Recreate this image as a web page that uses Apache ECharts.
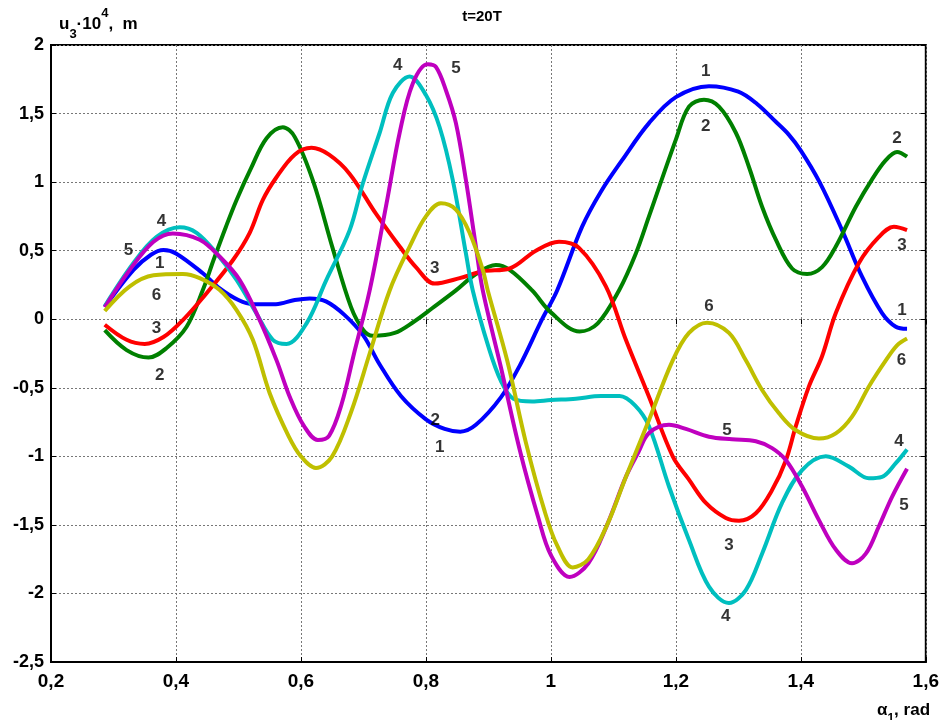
<!DOCTYPE html>
<html>
<head>
<meta charset="utf-8">
<script src="https://cdn.jsdelivr.net/npm/echarts@6/dist/echarts.min.js"></script>
<style>html,body{margin:0;padding:0;background:#fff}#c{width:942px;height:720px}</style>
</head>
<body>
<div id="c"></div>
<script>
// ---- data (x in rad, y in u3*10^4 m) ----
var xTicks = [0.2, 0.4, 0.6, 0.8, 1.0, 1.2, 1.4, 1.6];
var yTicks = [-2.5, -2, -1.5, -1, -0.5, 0, 0.5, 1, 1.5, 2];
var curve1 = [[0.286,0.09],[0.332,0.36],[0.36,0.47],[0.38,0.505],[0.40,0.48],[0.443,0.335],[0.47,0.225],[0.50,0.14],[0.523,0.11],[0.56,0.11],[0.59,0.14],[0.614,0.152],[0.64,0.13],[0.67,0.03],[0.70,-0.12],[0.726,-0.33],[0.76,-0.56],[0.80,-0.73],[0.83,-0.8],[0.855,-0.82],[0.88,-0.77],[0.92,-0.57],[0.95,-0.34],[0.986,0.0],[1.01,0.21],[1.05,0.675],[1.08,0.93],[1.114,1.16],[1.157,1.43],[1.2,1.62],[1.253,1.70],[1.30,1.66],[1.33,1.57],[1.36,1.44],[1.38,1.35],[1.40,1.23],[1.43,1.0],[1.466,0.65],[1.498,0.31],[1.53,0.045],[1.552,-0.055],[1.57,-0.07]];
var curve2 = [[0.286,-0.08],[0.321,-0.225],[0.356,-0.28],[0.385,-0.21],[0.417,-0.055],[0.443,0.213],[0.46,0.43],[0.48,0.675],[0.497,0.87],[0.52,1.1],[0.545,1.32],[0.571,1.40],[0.59,1.33],[0.62,1.0],[0.65,0.53],[0.68,0.09],[0.70,-0.08],[0.715,-0.12],[0.75,-0.1],[0.78,-0.02],[0.81,0.08],[0.848,0.21],[0.88,0.33],[0.912,0.395],[0.934,0.36],[0.97,0.21],[1.0,0.05],[1.046,-0.09],[1.075,-0.03],[1.109,0.21],[1.136,0.48],[1.157,0.75],[1.2,1.31],[1.221,1.55],[1.245,1.60],[1.269,1.55],[1.296,1.36],[1.317,1.11],[1.338,0.82],[1.36,0.58],[1.386,0.37],[1.41,0.33],[1.434,0.38],[1.456,0.53],[1.488,0.82],[1.514,1.02],[1.536,1.16],[1.554,1.22],[1.57,1.185]];
var curve3 = [[0.286,-0.04],[0.321,-0.15],[0.35,-0.18],[0.38,-0.13],[0.411,-0.006],[0.449,0.19],[0.491,0.43],[0.518,0.63],[0.539,0.87],[0.56,1.03],[0.59,1.2],[0.617,1.25],[0.645,1.2],[0.678,1.06],[0.72,0.77],[0.758,0.53],[0.784,0.38],[0.814,0.26],[0.854,0.30],[0.891,0.35],[0.934,0.37],[0.976,0.50],[1.013,0.565],[1.045,0.52],[1.088,0.24],[1.12,-0.15],[1.157,-0.565],[1.195,-1.0],[1.221,-1.17],[1.248,-1.34],[1.28,-1.45],[1.301,-1.47],[1.328,-1.415],[1.354,-1.246],[1.376,-1.03],[1.392,-0.78],[1.413,-0.49],[1.434,-0.27],[1.456,0.045],[1.493,0.41],[1.525,0.60],[1.549,0.675],[1.57,0.65]];
var curve4 = [[0.286,0.095],[0.332,0.41],[0.369,0.60],[0.406,0.67],[0.433,0.63],[0.465,0.48],[0.497,0.286],[0.529,0.04],[0.555,-0.15],[0.577,-0.18],[0.609,-0.03],[0.64,0.28],[0.678,0.65],[0.699,0.99],[0.726,1.36],[0.747,1.65],[0.774,1.77],[0.80,1.635],[0.822,1.40],[0.843,1.015],[0.864,0.48],[0.875,0.21],[0.9,-0.2],[0.92,-0.45],[0.94,-0.58],[0.97,-0.6],[1.0,-0.59],[1.04,-0.58],[1.08,-0.56],[1.11,-0.56],[1.135,-0.63],[1.157,-0.78],[1.189,-1.22],[1.221,-1.61],[1.253,-1.95],[1.285,-2.07],[1.312,-1.975],[1.338,-1.71],[1.37,-1.34],[1.402,-1.10],[1.44,-1.0],[1.477,-1.075],[1.509,-1.16],[1.53,-1.15],[1.552,-1.05],[1.57,-0.95]];
var curve5 = [[0.286,0.087],[0.326,0.36],[0.364,0.565],[0.395,0.626],[0.438,0.58],[0.47,0.456],[0.502,0.286],[0.534,-0.006],[0.561,-0.30],[0.582,-0.565],[0.605,-0.78],[0.627,-0.88],[0.645,-0.85],[0.665,-0.62],[0.685,-0.25],[0.71,0.21],[0.737,0.845],[0.758,1.36],[0.779,1.72],[0.803,1.86],[0.816,1.84],[0.832,1.67],[0.848,1.43],[0.864,1.015],[0.88,0.53],[0.891,0.21],[0.92,-0.35],[0.95,-0.95],[0.98,-1.45],[1.0,-1.72],[1.03,-1.88],[1.06,-1.78],[1.09,-1.5],[1.12,-1.15],[1.14,-0.97],[1.157,-0.83],[1.189,-0.77],[1.216,-0.80],[1.253,-0.857],[1.29,-0.876],[1.328,-0.89],[1.354,-0.94],[1.376,-1.027],[1.402,-1.22],[1.429,-1.465],[1.456,-1.68],[1.482,-1.78],[1.504,-1.71],[1.525,-1.51],[1.546,-1.295],[1.57,-1.09]];
var curve6 = [[0.286,0.06],[0.326,0.24],[0.364,0.32],[0.411,0.33],[0.438,0.30],[0.47,0.213],[0.497,0.067],[0.523,-0.15],[0.55,-0.54],[0.58,-0.85],[0.60,-1.0],[0.624,-1.085],[0.65,-1.0],[0.68,-0.68],[0.71,-0.25],[0.742,0.21],[0.774,0.53],[0.80,0.75],[0.824,0.845],[0.848,0.80],[0.87,0.63],[0.891,0.36],[0.899,0.21],[0.93,-0.3],[0.96,-0.9],[0.99,-1.4],[1.01,-1.65],[1.035,-1.81],[1.06,-1.75],[1.09,-1.5],[1.12,-1.15],[1.157,-0.735],[1.195,-0.30],[1.221,-0.10],[1.25,-0.025],[1.285,-0.10],[1.312,-0.30],[1.338,-0.516],[1.365,-0.686],[1.392,-0.81],[1.429,-0.87],[1.456,-0.832],[1.482,-0.71],[1.509,-0.49],[1.536,-0.30],[1.554,-0.19],[1.57,-0.14]];
var curveNames = ['1', '2', '3', '4', '5', '6'];
var curveLabels = [
  ['1',0.374,0.408],['1',0.822,-0.932],['1',1.248,1.805],['1',1.562,0.067],
  ['2',0.374,-0.407],['2',0.815,-0.735],['2',1.248,1.404],['2',1.554,1.32],
  ['3',0.369,-0.066],['3',0.814,0.371],['3',1.285,-1.647],['3',1.562,0.541],
  ['4',0.377,0.711],['4',0.755,1.854],['4',1.557,-0.893],['4',1.28,-2.17],
  ['5',0.324,0.505],['5',0.848,1.83],['5',1.282,-0.808],['5',1.565,-1.355],
  ['6',0.369,0.177],['6',1.253,0.091],['6',1.561,-0.298]
];
var titleText = 't=20T';

var colors = ['#0000FF', '#008000', '#FF0000', '#00BFBF', '#BF00BF', '#BFBF00'];
var curves = [curve1, curve2, curve3, curve4, curve5, curve6];
function fmt(v) { return String(+(+v).toFixed(1)).replace('.', ','); }

var chart = echarts.init(document.getElementById('c'), null, {renderer: 'canvas'});
var series = curves.map(function (d, i) {
  return {
    name: curveNames[i], type: 'line', data: d, smooth: 0.35, showSymbol: false,
    lineStyle: {width: 4, color: colors[i]}, itemStyle: {color: colors[i]}, z: 3
  };
});
series.push({
  type: 'scatter', symbolSize: 0, z: 5, silent: true,
  data: curveLabels.map(function (l) { return {value: [l[1], l[2]], name: l[0]}; }),
  label: {show: true, position: 'inside', formatter: function (p) { return p.name; },
    color: '#000', fontSize: 17, fontWeight: 'bold', fontFamily: 'Liberation Sans, Arial, sans-serif'}
});

var baseFont = 'Liberation Sans, Arial, sans-serif';
chart.setOption({
  animation: false,
  backgroundColor: '#fff',
  title: [
    {text: titleText, left: 477, top: 4, textAlign: 'center',
      textStyle: {fontSize: 15, fontWeight: 'bold', color: '#000', fontFamily: baseFont}},
    {text: '{b|u}{s|3}{b|·10}{p|4}{b|,  m}', left: 54, top: 2,
      textStyle: {rich: {
        b: {fontSize: 17, fontWeight: 'bold', color: '#000', fontFamily: baseFont, verticalAlign: 'bottom', lineHeight: 26},
        s: {fontSize: 13, fontWeight: 'bold', color: '#000', fontFamily: baseFont, verticalAlign: 'bottom', padding: [0,0,-8,0], lineHeight: 26},
        p: {fontSize: 13, fontWeight: 'bold', color: '#000', fontFamily: baseFont, verticalAlign: 'top', lineHeight: 26}
      }}},
    {text: '{b|α}{s|1}{b|, rad}', left: 872, top: 690,
      textStyle: {rich: {
        b: {fontSize: 17, fontWeight: 'bold', color: '#000', fontFamily: 'Liberation Sans Narrow, Liberation Sans, Arial, sans-serif', verticalAlign: 'bottom', lineHeight: 24},
        s: {fontSize: 12, fontWeight: 'bold', color: '#000', fontFamily: baseFont, verticalAlign: 'bottom', padding: [0,0,-6,0], lineHeight: 24}
      }}}
  ],
  grid: {left: 51, right: 15, top: 45, bottom: 58, show: true, borderColor: '#000', borderWidth: 2, containLabel: false},
  xAxis: [{
    type: 'value', min: xTicks[0], max: xTicks[xTicks.length - 1], interval: 0.2,
    axisLine: {show: true, onZero: false, lineStyle: {color: '#000', width: 2}},
    axisTick: {show: true, inside: true, length: 5, lineStyle: {color: '#000'}},
    splitLine: {show: true, lineStyle: {color: '#777', type: [2, 2], width: 1}},
    axisLabel: {formatter: fmt, margin: 10, color: '#000', fontSize: 19, fontWeight: 'bold',
      fontFamily: 'Liberation Sans Narrow, Liberation Sans, Arial, sans-serif'}
  }, {
    type: 'value', position: 'top', min: xTicks[0], max: xTicks[xTicks.length - 1], interval: 0.2,
    axisLine: {show: false}, axisTick: {show: true, inside: true, length: 5, lineStyle: {color: '#000'}},
    axisLabel: {show: false}, splitLine: {show: false}
  }],
  yAxis: [{
    type: 'value', min: yTicks[0], max: yTicks[yTicks.length - 1], interval: 0.5,
    axisLine: {show: true, onZero: false, lineStyle: {color: '#000', width: 2}},
    axisTick: {show: true, inside: true, length: 5, lineStyle: {color: '#000'}},
    splitLine: {show: true, lineStyle: {color: '#777', type: [2, 2], width: 1}},
    axisLabel: {formatter: fmt, margin: 7, color: '#000', fontSize: 18, fontWeight: 'bold', fontFamily: baseFont}
  }, {
    type: 'value', position: 'right', min: yTicks[0], max: yTicks[yTicks.length - 1], interval: 0.5,
    axisLine: {show: false}, axisTick: {show: true, inside: true, length: 5, lineStyle: {color: '#000'}},
    axisLabel: {show: false}, splitLine: {show: false}
  }],
  series: series
});
</script>
</body>
</html>
